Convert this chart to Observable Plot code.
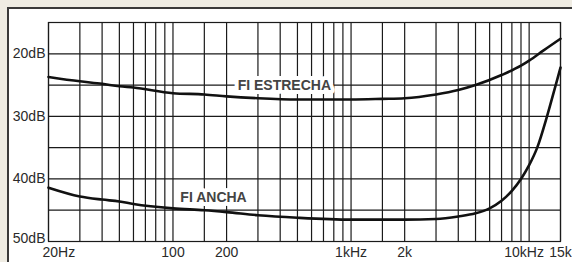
<!DOCTYPE html>
<html><head><meta charset="utf-8">
<script src="https://cdn.jsdelivr.net/npm/d3@7"></script>
<script src="https://cdn.jsdelivr.net/npm/@observablehq/plot@0.6"></script>
<style>
html,body{margin:0;padding:0;background:#efece3;}
#wrap{position:relative;width:572px;height:262px;overflow:hidden;}
#panel{position:absolute;left:7px;top:7px;width:600px;height:300px;background:#fff;border-top:2px solid #3a3a3a;border-left:2px solid #3a3a3a;}
#chart{position:absolute;left:0;top:0;}
#chart svg{background:transparent;}
</style></head><body>
<div id="wrap"><div id="panel"></div><div id="chart"></div></div>
<script>
// Grid
const gridFreqs = [20,30,40,50,60,70,80,90,100,150,200,300,400,500,600,700,800,900,1000,1500,2000,3000,4000,5000,6000,7000,8000,9000,10000,15000];
const gridDb = [15,20,25,30,35,40,45,50];
// Tick labels
const xTicks = [20,50,100,200,500,1000,2000,5000,10000,15000];
const xTickLabels = ["20Hz","50","100","200","500","1kHz","2k","5k","10kHz","15k"];
const yTicks = [20,30,40,50];
const yTickLabels = ["20dB","30dB","40dB","50dB"];
// Series: FI ESTRECHA
const narrowFreq = [20,30,40,50,60,100,150,200,300,500,1000,1500,2000,3000,4000,5000,7000,9000,10000,12000,15000];
const narrowDb   = [23.7,24.4,24.8,25.2,25.4,26.3,26.5,26.8,27.1,27.3,27.3,27.2,27.1,26.5,25.8,25.0,23.4,21.9,21.1,19.5,17.6];
// Series: FI ANCHA
const wideFreq = [20,30,40,50,60,100,150,200,300,500,1000,2000,3000,4000,5000,6000,7000,8000,9000,10000,11100,12600,14100,15000];
const wideDb   = [41.4,42.8,43.3,43.6,44.0,44.7,45.0,45.3,45.8,46.2,46.5,46.5,46.4,46.0,45.5,44.7,43.5,41.9,40.0,37.8,35.0,30.0,25.0,22.2];
// Series labels
const seriesNames = ["FI ESTRECHA","FI ANCHA"];
const labelFreq = [422,169];
const labelDb = [25.0,42.9];

const narrow = narrowFreq.map((f,i)=>({f, db: narrowDb[i]}));
const wide = wideFreq.map((f,i)=>({f, db: wideDb[i]}));
const labels = seriesNames.map((name,i)=>({name, f: labelFreq[i], db: labelDb[i]}));
const xLab = new Map(xTicks.map((t,i)=>[t, xTickLabels[i]]));
const yLab = new Map(yTicks.map((t,i)=>[t, yTickLabels[i]]));

const gridColor = "#1a1a1a";
const textColor = "#2a2a2a";

const chart = Plot.plot({
  width: 572,
  height: 262,
  marginLeft: 48,
  marginRight: 12,
  marginTop: 22,
  marginBottom: 21,
  style: {fontFamily: "'Liberation Sans', Arial, sans-serif", fontSize: "14px", background: "transparent", color: textColor},
  x: {type: "log", domain: [20, 15000], label: null},
  y: {domain: [15, 50], reverse: true, label: null},
  marks: [
    Plot.ruleX(gridFreqs, {x: d => d, stroke: gridColor, strokeWidth: 1.2}),
    Plot.ruleY(gridDb, {y: d => d, stroke: gridColor, strokeWidth: 1.2}),
    Plot.frame({stroke: gridColor, strokeWidth: 1.2}),
    Plot.axisX(xTicks.filter(t => t !== 20 && t !== 10000), {label: null, tickSize: 0, tickPadding: 6, tickFormat: d => xLab.get(d), fill: textColor, fontSize: 14}),
    Plot.axisX([20], {label: null, tickSize: 0, tickPadding: 6, tickFormat: d => xLab.get(d), textAnchor: "start", dx: -6, fill: textColor, fontSize: 14}),
    Plot.axisX([10000], {label: null, tickSize: 0, tickPadding: 6, tickFormat: d => xLab.get(d), dx: -5, fill: textColor, fontSize: 14}),
    Plot.axisY(yTicks.filter(t => t !== 50), {label: null, tickSize: 0, tickPadding: 3, tickFormat: d => yLab.get(d), fill: textColor, fontSize: 14}),
    Plot.axisY([50], {label: null, tickSize: 0, tickPadding: 3, tickFormat: d => yLab.get(d), dy: -3, fill: textColor, fontSize: 14}),
    Plot.text(labels, {x: "f", y: "db", text: "name", fontWeight: "bold", fontSize: 14, fill: "#444", stroke: "white", strokeWidth: 8, strokeLinejoin: "round"}),
    Plot.line(narrow, {x: "f", y: "db", curve: "monotone-x", stroke: "#111", strokeWidth: 2.6}),
    Plot.line(wide, {x: "f", y: "db", curve: "monotone-x", stroke: "#111", strokeWidth: 2.6})
  ]
});
document.getElementById("chart").appendChild(chart);
</script>
</body></html>
